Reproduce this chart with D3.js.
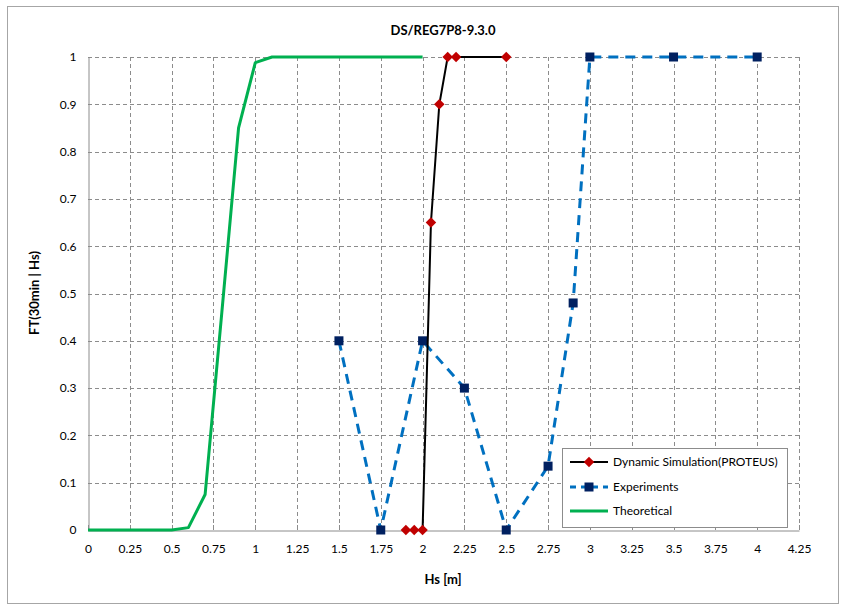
<!DOCTYPE html>
<html>
<head>
<meta charset="utf-8">
<script src="https://cdn.jsdelivr.net/npm/d3@7"></script>
<style>
body{margin:0;background:#fff;}
text{font-family:Lato,"Open Sans",sans-serif;}
</style>
</head>
<body>
<svg id="chart" width="845" height="610"></svg>
<script>
const title = "DS/REG7P8-9.3.0";
const xLabel = "Hs [m]";
const yLabel = "FT(30min | Hs)";
const xTicks = [0,0.25,0.5,0.75,1,1.25,1.5,1.75,2,2.25,2.5,2.75,3,3.25,3.5,3.75,4,4.25];
const yTicks = [0,0.1,0.2,0.3,0.4,0.5,0.6,0.7,0.8,0.9,1];

const simX = [1.9,1.95,2.0,2.05,2.1,2.15,2.2,2.5];
const simY = [0,0,0,0.65,0.9,1,1,1];

const expX = [1.5,1.75,2.0,2.25,2.5,2.75,2.9,3.0,3.5,4.0];
const expY = [0.4,0,0.4,0.3,0,0.135,0.48,1,1,1];

const theoX = [0,0.1,0.2,0.3,0.4,0.5,0.6,0.7,0.8,0.9,1.0,1.1,1.2,1.3,1.4,1.5,1.6,1.7,1.8,1.9,2.0];
const theoY = [0,0,0,0,0,0,0.005,0.075,0.46,0.85,0.988,1,1,1,1,1,1,1,1,1,1];

const seriesNames = ["Dynamic Simulation(PROTEUS)","Experiments","Theoretical"];

const svg = d3.select("#chart");
const W = 845, H = 610;
const m = {left:88, right:799, top:57, bottom:530};

svg.append("rect").attr("x",7.5).attr("y",6.5).attr("width",831).attr("height",597)
  .attr("fill","#fff").attr("stroke","#a6a6a6").attr("stroke-width",1);

const x = d3.scaleLinear().domain([0,4.25]).range([m.left,m.right]);
const y = d3.scaleLinear().domain([0,1]).range([m.bottom,m.top]);

// grid
const g = svg.append("g");
g.selectAll("line.vg").data(xTicks.slice(1)).join("line")
  .attr("x1",d=>Math.round(x(d))+0.5).attr("x2",d=>Math.round(x(d))+0.5)
  .attr("y1",m.top).attr("y2",m.bottom)
  .attr("stroke","#8c8c8c").attr("stroke-dasharray","4,3").attr("stroke-width",1);
g.selectAll("line.hg").data(yTicks.slice(1)).join("line")
  .attr("y1",d=>Math.round(y(d))+0.5).attr("y2",d=>Math.round(y(d))+0.5)
  .attr("x1",m.left).attr("x2",m.right)
  .attr("stroke","#8c8c8c").attr("stroke-dasharray","4,3").attr("stroke-width",1);

// axes
const xAxis = d3.axisBottom(x).tickValues(xTicks).tickSize(0).tickPadding(14)
  .tickFormat(d=>d3.format("~g")(d));
const xa = svg.append("g").attr("transform",`translate(0,${m.bottom+0.5})`).call(xAxis);
xa.select(".domain").attr("stroke","#8c8c8c");
xa.selectAll("text").attr("font-size",12).attr("fill","#000");
svg.append("g").selectAll("line").data(xTicks).join("line")
  .attr("x1",d=>Math.round(x(d))+0.5).attr("x2",d=>Math.round(x(d))+0.5)
  .attr("y1",m.bottom-5).attr("y2",m.bottom).attr("stroke","#8c8c8c");

const yAxis = d3.axisLeft(y).tickValues(yTicks).tickSize(0).tickPadding(12)
  .tickFormat(d=>d3.format("~g")(d));
const ya = svg.append("g").attr("transform",`translate(${m.left+0.5},0)`).call(yAxis);
ya.select(".domain").attr("stroke","#8c8c8c");
ya.selectAll("text").attr("font-size",12).attr("fill","#000");

// theoretical
const line = d3.line().x(d=>x(d[0])).y(d=>y(d[1]));
svg.append("path").datum(d3.zip(theoX,theoY)).attr("d",line)
  .attr("fill","none").attr("stroke","#00b050").attr("stroke-width",3).attr("stroke-linejoin","round");

// experiments
const expData = d3.zip(expX,expY);
svg.append("path").datum(expData).attr("d",line)
  .attr("fill","none").attr("stroke","#0070c0").attr("stroke-width",3)
  .attr("stroke-dasharray","10,7");
svg.append("g").selectAll("rect").data(expData).join("rect")
  .attr("x",d=>x(d[0])-4.5).attr("y",d=>y(d[1])-4.5).attr("width",9).attr("height",9)
  .attr("fill","#002060");

// simulation
const simData = d3.zip(simX,simY);
svg.append("path").datum(simData).attr("d",line)
  .attr("fill","none").attr("stroke","#000").attr("stroke-width",2);
const diamond = d3.symbol().type(d3.symbolDiamond2).size(70);
svg.append("g").selectAll("path").data(simData).join("path")
  .attr("d",diamond).attr("transform",d=>`translate(${x(d[0])},${y(d[1])})`)
  .attr("fill","#c00000");

// legend
const lg = svg.append("g");
lg.append("rect").attr("x",562.5).attr("y",448.5).attr("width",225).attr("height",79)
  .attr("fill","#fff").attr("stroke","#8c8c8c");
const ly = [462,487,511];
// sim
lg.append("line").attr("x1",570).attr("x2",608).attr("y1",ly[0]).attr("y2",ly[0]).attr("stroke","#000").attr("stroke-width",2);
lg.append("path").attr("d",diamond).attr("transform",`translate(589,${ly[0]})`).attr("fill","#c00000");
// exp
lg.append("line").attr("x1",570).attr("x2",608).attr("y1",ly[1]).attr("y2",ly[1]).attr("stroke","#0070c0").attr("stroke-width",3).attr("stroke-dasharray","6,5");
lg.append("rect").attr("x",584.5).attr("y",ly[1]-4.5).attr("width",9).attr("height",9).attr("fill","#002060");
// theo
lg.append("line").attr("x1",570).attr("x2",608).attr("y1",ly[2]).attr("y2",ly[2]).attr("stroke","#00b050").attr("stroke-width",3);
lg.selectAll("text").data(seriesNames).join("text")
  .attr("x",613).attr("y",(d,i)=>ly[i]+4).attr("font-size",12).attr("fill","#000").text(d=>d);

// titles
svg.append("text").attr("x",443).attr("y",35).attr("text-anchor","middle")
  .attr("font-size",13).attr("font-weight","bold").text(title);
svg.append("text").attr("x",443).attr("y",584).attr("text-anchor","middle")
  .attr("font-size",13).attr("font-weight","bold").text(xLabel);
svg.append("text").attr("transform","translate(39,293) rotate(-90)").attr("text-anchor","middle")
  .attr("font-size",13).attr("font-weight","bold").text(yLabel);
</script>
</body>
</html>
